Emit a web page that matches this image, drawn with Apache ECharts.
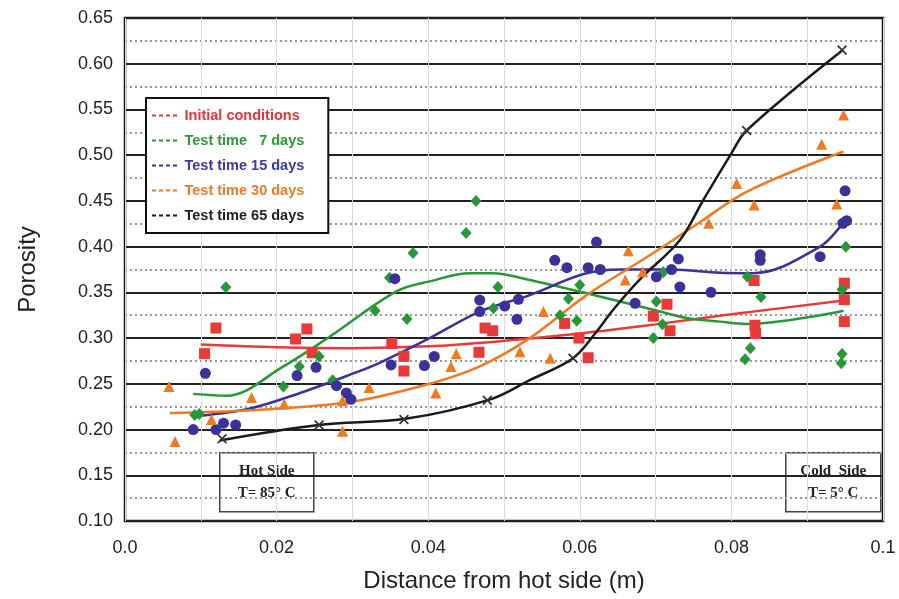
<!DOCTYPE html>
<html><head><meta charset="utf-8">
<script src="https://cdn.jsdelivr.net/npm/echarts@6/dist/echarts.min.js"></script>
<style>html,body{margin:0;padding:0;background:#fff}#c{width:899px;height:599px}</style>
</head><body><div id="c"></div>
<script>
const xTickLabels = {0:'0.0',0.02:'0.02',0.04:'0.04',0.06:'0.06',0.08:'0.08',0.1:'0.1'};
const seriesNames = ['Initial conditions','Test time   7 days','Test time 15 days','Test time 30 days','Test time 65 days'];

const redLine = [[0.010,0.293],[0.020,0.290],[0.030,0.289],[0.040,0.291],[0.050,0.297],[0.060,0.305],[0.070,0.315],[0.080,0.326],[0.0948,0.341]];
const redPts = [[0.0105,0.283],[0.012,0.311],[0.0225,0.299],[0.024,0.310],[0.0247,0.284],[0.0352,0.294],[0.0368,0.280],[0.0368,0.264],[0.0467,0.2845],[0.0475,0.311],[0.0485,0.308],[0.058,0.316],[0.0599,0.300],[0.0611,0.2785],[0.0697,0.324],[0.0715,0.337],[0.0719,0.308],[0.083,0.363],[0.0831,0.314],[0.0832,0.305],[0.0949,0.360],[0.0949,0.342],[0.0949,0.318]];

const greenLine = [[0.009,0.239],[0.0134,0.237],[0.0209,0.269],[0.027,0.3015],[0.0358,0.351],[0.0402,0.362],[0.0455,0.371],[0.0486,0.371],[0.0521,0.366],[0.0609,0.349],[0.0697,0.331],[0.0741,0.322],[0.0785,0.318],[0.082,0.3154],[0.0948,0.33]];
const greenPts = [[0.0092,0.216],[0.0098,0.217],[0.0133,0.3555],[0.0209,0.247],[0.023,0.269],[0.0256,0.280],[0.0274,0.254],[0.033,0.330],[0.0349,0.366],[0.0372,0.321],[0.038,0.393],[0.045,0.415],[0.0463,0.450],[0.0486,0.3325],[0.0492,0.356],[0.0574,0.325],[0.0585,0.343],[0.0596,0.319],[0.060,0.358],[0.0697,0.300],[0.0701,0.340],[0.0709,0.315],[0.071,0.372],[0.0818,0.277],[0.0821,0.367],[0.0825,0.289],[0.0839,0.345],[0.0945,0.2725],[0.0946,0.2826],[0.0946,0.353],[0.0951,0.400]];

const blueLine = [[0.0099,0.215],[0.0165,0.223],[0.0231,0.240],[0.0297,0.260],[0.0336,0.273],[0.0402,0.300],[0.0468,0.329],[0.0534,0.347],[0.0605,0.370],[0.0653,0.375],[0.0721,0.375],[0.0785,0.3715],[0.0829,0.371],[0.0917,0.400],[0.0948,0.427]];
const bluePts = [[0.009,0.200],[0.0106,0.2615],[0.012,0.200],[0.013,0.207],[0.0146,0.205],[0.0227,0.259],[0.0252,0.268],[0.0279,0.248],[0.0292,0.240],[0.0298,0.233],[0.0351,0.2706],[0.0356,0.365],[0.0395,0.270],[0.0408,0.280],[0.0468,0.3416],[0.0468,0.329],[0.0501,0.335],[0.0517,0.3205],[0.0519,0.3424],[0.0567,0.385],[0.0583,0.377],[0.0611,0.377],[0.0622,0.405],[0.0627,0.375],[0.0673,0.338],[0.0701,0.367],[0.0721,0.375],[0.073,0.3865],[0.0732,0.356],[0.0773,0.350],[0.0838,0.391],[0.0838,0.385],[0.0917,0.389],[0.0947,0.4255],[0.0952,0.4283],[0.095,0.461]];

const orangeLine = [[0.0059,0.218],[0.0165,0.221],[0.0297,0.230],[0.0402,0.250],[0.0468,0.269],[0.0534,0.300],[0.0609,0.347],[0.0697,0.393],[0.0759,0.427],[0.082,0.460],[0.0948,0.504]];
const orangePts = [[0.0058,0.247],[0.0066,0.187],[0.0114,0.211],[0.0167,0.235],[0.021,0.228],[0.0287,0.2315],[0.0287,0.198],[0.0322,0.246],[0.041,0.240],[0.043,0.269],[0.0437,0.283],[0.0521,0.285],[0.0552,0.329],[0.0561,0.278],[0.066,0.3635],[0.0664,0.3956],[0.0683,0.3726],[0.077,0.4255],[0.0807,0.469],[0.083,0.4455],[0.0919,0.512],[0.0939,0.4466],[0.0948,0.544]];

const blackLine = [[0.0125,0.188],[0.0255,0.205],[0.0372,0.212],[0.0482,0.233],[0.0534,0.254],[0.0591,0.278],[0.0622,0.307],[0.0644,0.331],[0.0679,0.364],[0.0732,0.407],[0.0763,0.451],[0.080,0.502],[0.082,0.527],[0.0947,0.615]];
const blackPts = [[0.0128,0.190],[0.0256,0.205],[0.0368,0.211],[0.0478,0.232],[0.0591,0.278],[0.082,0.527],[0.0946,0.615]];

const colors = ['#e83a36','#27973a','#3a329a','#f07a22','#1a1a1a'];
const textColors = ['#e8333d','#2a9a34','#3c3a9e','#f07a28','#222222'];

const font = "'Liberation Sans', Arial, sans-serif";
const serif = "'Liberation Serif', 'Times New Roman', serif";
const crossPath = 'path://M0,1.2L1.2,0L10,8.8L8.8,10Z M8.8,0L10,1.2L1.2,10L0,8.8Z';
const dashIcon = 'path://M0,0h4v2h-4z M7,0h4v2h-4z M14,0h4v2h-4z M21,0h4v2h-4z';

const lines = [redLine, greenLine, blueLine, orangeLine, blackLine];
const pts = [redPts, greenPts, bluePts, orangePts, blackPts];
const symbols = ['rect','diamond','circle','triangle',crossPath];
const sizes = [11,[11,12],11,11,10];

const series = [];
lines.forEach((d,i)=>{
  series.push({name: seriesNames[i], type:'line', data:d, showSymbol:false, smooth:0.35,
    lineStyle:{color:colors[i], width:2.5}, itemStyle:{color:colors[i]}, z:2, silent:true});
});
pts.forEach((d,i)=>{
  series.push({name: seriesNames[i]+' pts', type:'scatter', data:d, symbol:symbols[i], symbolSize:sizes[i],
    itemStyle:{color: i===4 ? '#333' : colors[i], opacity:1}, z:3, silent:true});
});

const chart = echarts.init(document.getElementById('c'), null, {renderer:'canvas'});
chart.setOption({
  animation:false,
  backgroundColor:'#fff',
  grid:{left:125, right:16, top:18, bottom:78, show:true, borderColor:'#111', borderWidth:2.5, backgroundColor:'transparent'},
  xAxis:{type:'value', min:0, max:0.1, interval:0.02,
    name:'Distance from hot side (m)', nameLocation:'middle', nameGap:48,
    nameTextStyle:{fontFamily:font, fontSize:24, color:'#222'},
    axisLine:{show:false}, axisTick:{show:false},
    axisLabel:{fontFamily:font, fontSize:18, color:'#222', margin:18,
      formatter:v=>{const k=Math.round(v*100)/100; return xTickLabels[k]!==undefined?xTickLabels[k]:String(k);}},
    splitLine:{show:true, lineStyle:{color:'#dcdcdc', width:1}},
    minorTick:{show:false, splitNumber:2},
    minorSplitLine:{show:true, lineStyle:{color:'#dcdcdc', width:1}}
  },
  yAxis:{type:'value', min:0.10, max:0.65, interval:0.05,
    name:'Porosity', nameLocation:'middle', nameGap:85, nameRotate:90,
    nameTextStyle:{fontFamily:font, fontSize:24, color:'#222'},
    axisLine:{show:false}, axisTick:{show:false},
    axisLabel:{fontFamily:font, fontSize:18, color:'#222', margin:12, formatter:v=>v.toFixed(2)},
    splitLine:{show:true, lineStyle:{color:'#222', width:2}},
    minorTick:{show:false, splitNumber:2},
    minorSplitLine:{show:true, lineStyle:{color:'#999', width:2, type:[2,3]}}
  },
  legend:{orient:'vertical', left:146, top:98, backgroundColor:'#fff', borderColor:'#111', borderWidth:2,
    padding:[10,24,10,6], itemGap:10, itemWidth:26, itemHeight:2, icon:dashIcon,
    textStyle:{fontFamily:font, fontSize:14.5, fontWeight:'bold', padding:[0,0,0,2]},
    data: seriesNames.map((n,i)=>({name:n, textStyle:{color:textColors[i]}})),
    selectedMode:false},
  graphic:[
    {type:'group', left:219, top:452, z:100, children:[
      {type:'rect', shape:{x:0,y:0,width:94,height:59}, style:{fill:'#fff', stroke:'#444', lineWidth:1.5}},
      {type:'text', x:47, y:29.5, style:{text:'Hot Side\nT= 85° C', fill:'#222', font:"bold 15px "+serif, textAlign:'center', textVerticalAlign:'middle', lineHeight:22}}
    ]},
    {type:'group', left:785, top:452, z:100, children:[
      {type:'rect', shape:{x:0,y:0,width:95,height:59}, style:{fill:'#fff', stroke:'#444', lineWidth:1.5}},
      {type:'text', x:47.5, y:29.5, style:{text:'Cold  Side\nT= 5° C', fill:'#222', font:"bold 15px "+serif, textAlign:'center', textVerticalAlign:'middle', lineHeight:22}}
    ]}
  ],
  series: series
});
</script></body></html>
